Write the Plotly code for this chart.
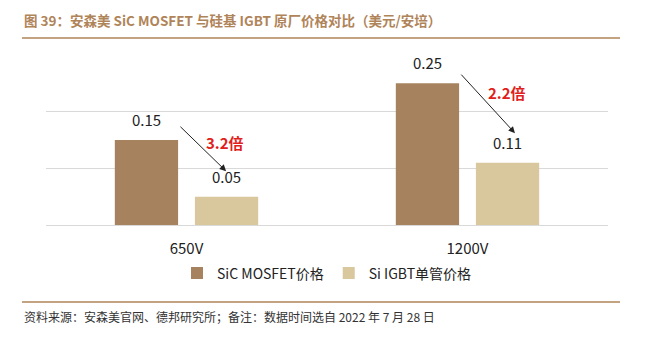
import plotly.graph_objects as go

categories = ["650V", "1200V"]
sic_values = [0.15, 0.25]
igbt_values = [0.05, 0.11]
sic_labels = ["0.15", "0.25"]
igbt_labels = ["0.05", "0.11"]
ratio_labels = ["3.2倍", "2.2倍"]
series_names = ["SiC MOSFET价格", "Si IGBT单管价格"]
y_ticks = [0, 0.1, 0.2, 0.3]

SIC_COLOR = "#A6835E"
IGBT_COLOR = "#D9C79E"
FONT = "Noto Sans CJK SC"

fig = go.Figure()
fig.add_trace(go.Bar(x=categories, y=sic_values, name=series_names[0],
                     marker=dict(color=SIC_COLOR, line=dict(width=0))))
fig.add_trace(go.Bar(x=categories, y=igbt_values, name=series_names[1],
                     marker=dict(color=IGBT_COLOR, line=dict(width=0))))

ann = []
for i, c in enumerate(categories):
    ann.append(dict(x=c, y=sic_values[i], text=sic_labels[i], showarrow=False,
                    xref="x", yref="y", xshift=-40, yanchor="bottom", yshift=8,
                    font=dict(size=15, color="#222", family=FONT)))
    ann.append(dict(x=c, y=igbt_values[i], text=igbt_labels[i], showarrow=False,
                    xref="x", yref="y", xshift=40, yanchor="bottom", yshift=8,
                    font=dict(size=15, color="#222", family=FONT)))

# arrows (tail -> head) in axis coordinates (category index, value)
arrows = [((-0.027, 0.176), (0.141, 0.095)), ((0.973, 0.268), (1.169, 0.162))]
ratio_pos = [(0.137, 0.145), (1.14, 0.233)]
for (tail, head), (tx, ty), lab in zip(arrows, ratio_pos, ratio_labels):
    ann.append(dict(x=head[0], y=head[1], ax=tail[0], ay=tail[1], xref="x", yref="y",
                    axref="x", ayref="y", showarrow=True, arrowhead=2, arrowsize=1.3,
                    arrowwidth=1, arrowcolor="#222", text=""))
    ann.append(dict(x=tx, y=ty, text="<b>" + lab + "</b>", showarrow=False, xref="x", yref="y",
                    font=dict(size=15, color="#E0201A", family=FONT)))

fig.update_layout(
    width=668, height=352,
    margin=dict(l=46, r=60, t=55, b=127),
    paper_bgcolor="white", plot_bgcolor="white",
    barmode="group", bargap=0.43, bargroupgap=0.21,
    showlegend=True,
    legend=dict(orientation="h", x=0.5, xanchor="center", y=-0.285, yanchor="middle",
                font=dict(size=14, color="#222", family=FONT), itemwidth=30,
                traceorder="normal", tracegroupgap=0),
    xaxis=dict(showline=False, ticks="outside", ticklen=10, tickcolor="rgba(0,0,0,0)",
               tickfont=dict(size=15, color="#222", family=FONT)),
    yaxis=dict(range=[0, 0.3], tickvals=y_ticks, showticklabels=False, showgrid=True,
               gridcolor="#D9D9D9", gridwidth=1.2, zeroline=True, zerolinecolor="#D9D9D9",
               zerolinewidth=1.2),
    annotations=ann,
    font=dict(family=FONT),
)

# title, rules and source note
fig.add_annotation(text="<b>图 39：安森美 SiC MOSFET 与硅基 IGBT 原厂价格对比（美元/安培）</b>",
                   xref="paper", yref="paper", x=(22 - 46) / 562, y=(225 - 20) / 170,
                   xanchor="left", yanchor="middle", showarrow=False,
                   font=dict(size=13.5, color="#B08459", family=FONT))
fig.add_annotation(text="资料来源：安森美官网、德邦研究所；备注：数据时间选自 2022 年 7 月 28 日",
                   xref="paper", yref="paper", x=(22 - 46) / 562, y=(225 - 316) / 170,
                   xanchor="left", yanchor="middle", showarrow=False,
                   font=dict(size=12, color="#333", family=FONT))
fig.add_shape(type="line", xref="paper", yref="paper",
              x0=(22 - 46) / 562, x1=(620 - 46) / 562, y0=(225 - 38) / 170, y1=(225 - 38) / 170,
              line=dict(color="#B08459", width=1.5))
fig.add_shape(type="line", xref="paper", yref="paper",
              x0=(22 - 46) / 562, x1=(620 - 46) / 562, y0=(225 - 302) / 170, y1=(225 - 302) / 170,
              line=dict(color="#B08459", width=1.5))

fig.write_html("out.html")
